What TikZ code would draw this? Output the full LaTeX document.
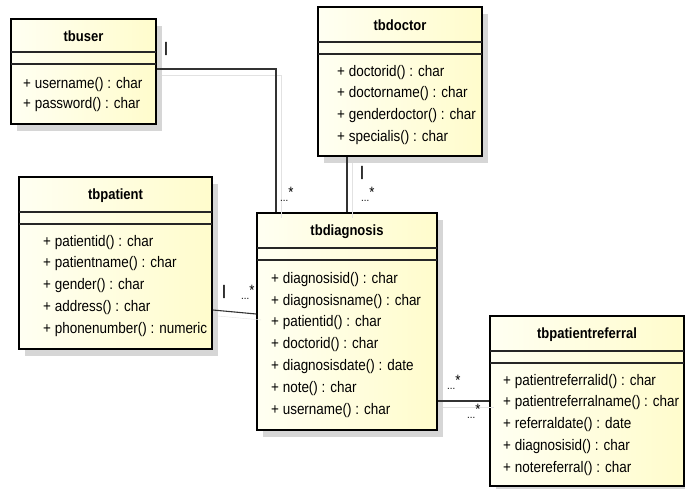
\documentclass[tikz,border=0pt]{standalone}
\usepackage{fontspec}
\setmainfont{Liberation Sans}[FakeStretch=0.88]
\usetikzlibrary{shadows}

\definecolor{classleft}{RGB}{255,255,242}
\definecolor{classright}{RGB}{255,252,204}
\definecolor{shadowgray}{RGB}{214,214,214}
\definecolor{linkshadow}{RGB}{226,226,226}

\begin{document}
\begin{tikzpicture}[x=1pt,y=-1pt,
        classbox/.style={draw=black, line width=1.6pt, inner sep=0pt,
            left color=classleft, right color=classright,
            drop shadow={shadow xshift=6pt, shadow yshift=-7pt, fill=shadowgray, opacity=1}},
        sepline/.style={draw=black!85, line width=1.2pt},
        classtitle/.style={font=\fontsize{14.8}{16}\bfseries\selectfont, inner sep=0pt},
        attr/.style={font=\fontsize{15.3}{17}\selectfont, anchor=base west, inner sep=0pt},
        link/.style={draw=black!80, line width=1.1pt,
            preaction={draw=linkshadow, transform canvas={shift={(5pt,-6pt)}}}},
        mult/.style={font=\fontsize{11}{12}\selectfont, anchor=base west, inner sep=0pt},
        one/.style={font=\fontsize{14}{15}\bfseries\selectfont, inner sep=0pt}]
        \useasboundingbox (0,0) rectangle (685,489);

        % draw the class boxes with their titles
        \foreach \cname/\ctitle/\xa/\ya/\xb/\yb/\sep in {
            user/tbuser/11/19/156/124/52,
            doctor/tbdoctor/318/7/482/156/42,
            patient/tbpatient/19/177/212/349/212,
            diagnosis/tbdiagnosis/257/213/437/430/248,
            referral/tbpatientreferral/490/316/684/486/351} {
                \node[classbox, minimum width={(\xb-\xa)*1pt}, minimum height={(\yb-\ya)*1pt}]
                    (\cname) at ({(\xa+\xb)/2},{(\ya+\yb)/2}) {};
                % the two compartment lines
                \draw[sepline] (\xa,\sep) -- (\xb,\sep);
                \draw[sepline] (\xa,{\sep+12}) -- (\xb,{\sep+12});
                \node[classtitle] (\cname-title) at ({(\xa+\xb)/2},{(\ya+\sep)/2+1}) {\ctitle};
        }

        % the operations of each class
        \foreach \txt [count=\i] in {+ username() : char, + password() : char}
                \node[attr] (user-op\i) at (23,{88.2+(\i-1)*20.5}) {\txt};
        \foreach \txt [count=\i] in {+ doctorid() : char, + doctorname() : char,
            + genderdoctor() : char, + specialis() : char}
                \node[attr] (doctor-op\i) at (337,{76.2+(\i-1)*21.8}) {\txt};
        \foreach \txt [count=\i] in {+ patientid() : char, + patientname() : char,
            + gender() : char, + address() : char, + phonenumber() : numeric}
                \node[attr] (patient-op\i) at (43,{246.2+(\i-1)*21.7}) {\txt};
        \foreach \txt [count=\i] in {+ diagnosisid() : char, + diagnosisname() : char,
            + patientid() : char, + doctorid() : char, + diagnosisdate() : date,
            + note() : char, + username() : char}
                \node[attr] (diagnosis-op\i) at (271,{283.2+(\i-1)*21.8}) {\txt};
        \foreach \txt [count=\i] in {+ patientreferralid() : char, + patientreferralname() : char,
            + referraldate() : date, + diagnosisid() : char, + notereferral() : char}
                \node[attr] (referral-op\i) at (503,{385.2+(\i-1)*21.7}) {\txt};

        % draw the associations
        \draw[link] ([yshift=2.5pt]user.east) -| ([xshift=-71pt]diagnosis.north);
        \draw[link] (doctor.south -| diagnosis.north) -- (diagnosis.north);
        \draw[link] ([yshift=-47pt]patient.east) -- ([yshift=7.5pt]diagnosis.west);
        \draw[link] (referral.west -| diagnosis.east) -- (referral.west);

        % multiplicities
        \node[one] (user-one) at (166,49) {|};
        \node[mult] (user-many) at (280,201) {...\raisebox{4pt}{\fontsize{15}{15}\selectfont *}};
        \node[one] (doctor-one) at (362,173) {|};
        \node[mult] (doctor-many) at (361,202) {...\raisebox{4pt}{\fontsize{15}{15}\selectfont *}};
        \node[one] (patient-one) at (224,292) {|};
        \node[mult] (patient-many) at (241,299) {...\raisebox{4pt}{\fontsize{15}{15}\selectfont *}};
        \node[mult] (referral-many) at (447,389) {...\raisebox{4pt}{\fontsize{15}{15}\selectfont *}};
        \node[mult] (diagnosis-many) at (467,418) {...\raisebox{4pt}{\fontsize{15}{15}\selectfont *}};
\end{tikzpicture}
\end{document}
